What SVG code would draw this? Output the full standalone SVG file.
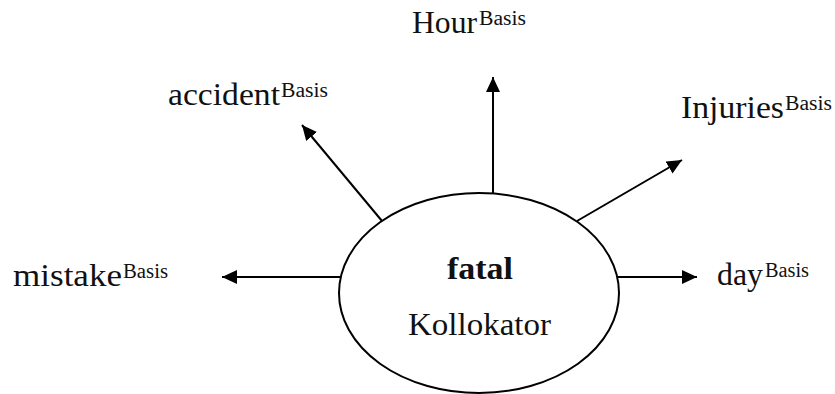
<svg xmlns="http://www.w3.org/2000/svg" width="835" height="394" viewBox="0 0 835 394">
<style>
.t{font-family:"Liberation Serif","Times New Roman",serif;font-size:31px;fill:#111}
.s{font-family:"Liberation Serif","Times New Roman",serif;font-size:20px;fill:#111}
.b{font-weight:bold}
.c{stroke:#000;stroke-width:2;fill:none;marker-end:url(#ah)}
</style>
<defs>
<marker id="ah" markerUnits="userSpaceOnUse" markerWidth="16" markerHeight="15" refX="15" refY="7" orient="auto">
<path d="M0,0 L15,7 L0,14 z" fill="#000"/>
</marker>
</defs>
<g id="connectors">
<line class="c" x1="493" y1="194" x2="493" y2="77"/>
<line class="c" x1="382" y1="221" x2="302" y2="125"/>
<line class="c" x1="577" y1="221" x2="682" y2="160"/>
<line class="c" x1="341" y1="277" x2="222" y2="277"/>
<line class="c" x1="617" y1="277" x2="697" y2="277"/>
</g>
<g id="center">
<ellipse cx="479" cy="293" rx="140" ry="100" fill="#fff" stroke="#000" stroke-width="2"/>
<text class="t b" x="447" y="279" textLength="66" lengthAdjust="spacingAndGlyphs">fatal</text>
<text class="t" x="408" y="335" textLength="143" lengthAdjust="spacingAndGlyphs">Kollokator</text>
</g>
<g id="hour">
<text class="t" x="412" y="33" textLength="65" lengthAdjust="spacingAndGlyphs">Hour</text>
<text class="s" x="479" y="25" textLength="47" lengthAdjust="spacingAndGlyphs">Basis</text>
</g>
<g id="accident">
<text class="t" x="168" y="105" textLength="112" lengthAdjust="spacingAndGlyphs">accident</text>
<text class="s" x="281" y="97" textLength="47" lengthAdjust="spacingAndGlyphs">Basis</text>
</g>
<g id="injuries">
<text class="t" x="681" y="118" textLength="103" lengthAdjust="spacingAndGlyphs">Injuries</text>
<text class="s" x="785" y="110" textLength="47" lengthAdjust="spacingAndGlyphs">Basis</text>
</g>
<g id="mistake">
<text class="t" x="13" y="286" textLength="109" lengthAdjust="spacingAndGlyphs">mistake</text>
<text class="s" x="123" y="278" textLength="45" lengthAdjust="spacingAndGlyphs">Basis</text>
</g>
<g id="day">
<text class="t" x="717" y="285" textLength="46" lengthAdjust="spacingAndGlyphs">day</text>
<text class="s" x="765" y="277" textLength="44" lengthAdjust="spacingAndGlyphs">Basis</text>
</g>
</svg>
